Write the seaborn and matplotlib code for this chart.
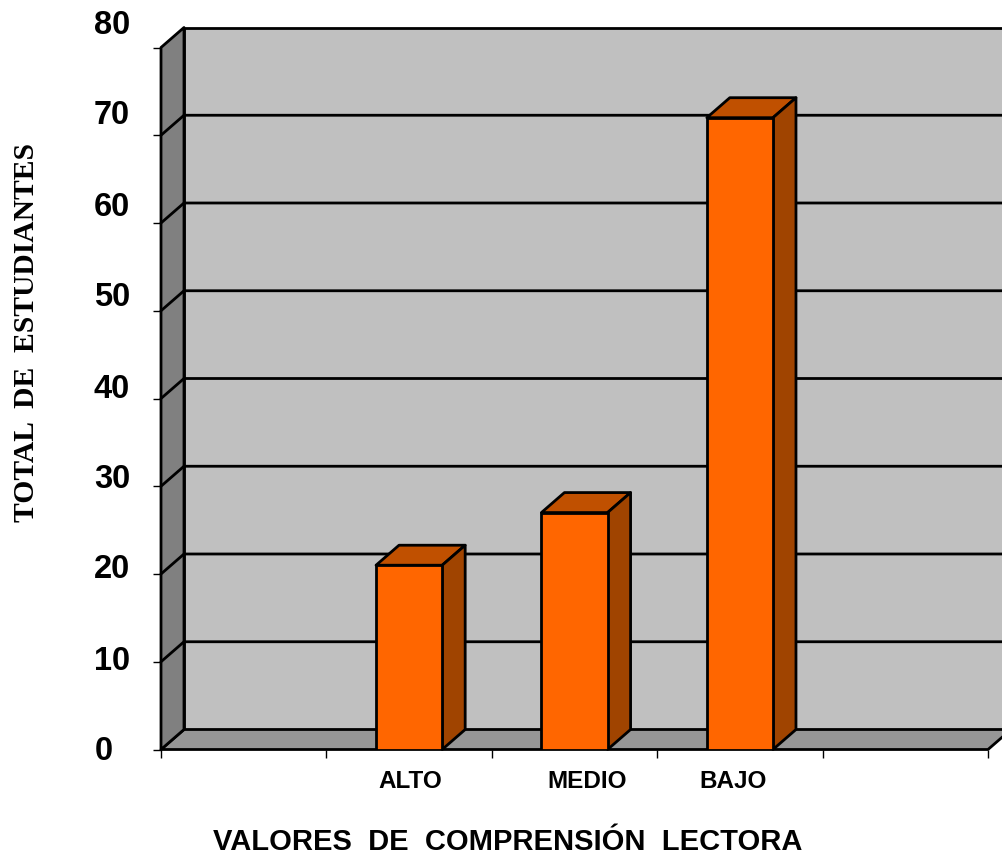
import numpy as np
import pandas as pd
import matplotlib
matplotlib.use("Agg")
import matplotlib.pyplot as plt
from matplotlib.patches import Polygon
import seaborn as sns

slots = [" ", "ALTO", "MEDIO", "BAJO", "  "]
categorias = ["ALTO", "MEDIO", "BAJO"]
valores = [21, 27, 72]
yticks = [0, 10, 20, 30, 40, 50, 60, 70, 80]

W, H = 1002, 856
sns.set_style("white")
plt.rcParams['font.family'] = ['Liberation Sans', 'DejaVu Sans']

df = pd.DataFrame({"nivel": categorias, "total": valores})

f = plt.figure(figsize=(W / 100, H / 100), dpi=100)
# front plane of the fake 3d box, in pixels of the reference
x0, x1, y0, y1 = 161, 988, 749.5, 47.5
ax = f.add_axes([x0 / W, (H - y0) / H, (x1 - x0) / W, (y0 - y1) / H])

p = sns.barplot(x="nivel", y="total", data=df, order=slots, color="#FF6600",
                saturation=1, width=0.40, edgecolor="black", linewidth=2, ax=ax, zorder=6)
p.set(xlim=(-0.5, 4.5), ylim=(0, 80), xlabel="", ylabel="")

# depth of the box in data units (23 px right, 20 px up)
dx = 23 / ((x1 - x0) / 5)
dy = 20 / ((y0 - y1) / 80)


def poly(pts, color, z, lw=2):
    ax.add_patch(Polygon(pts, closed=True, facecolor=color, edgecolor="black",
                         linewidth=lw, zorder=z, clip_on=False, joinstyle="round"))


xa, xb = -0.5, 4.5
poly([(xa + dx, dy), (xb + dx, dy), (xb + dx, 80 + dy), (xa + dx, 80 + dy)], "#C0C0C0", 1)
poly([(xa, 0), (xb, 0), (xb + dx, dy), (xa + dx, dy)], "#969696", 2)
poly([(xa, 0), (xa + dx, dy), (xa + dx, 80 + dy), (xa, 80)], "#808080", 2)

# grid on the back wall and side wall
for v in yticks[1:-1]:
    ax.plot([xa, xa + dx, xb + dx], [v, v + dy, v + dy], color="black", lw=2,
            zorder=3, clip_on=False, solid_joinstyle="miter")

# bar sides
for b in ax.patches:
    if b.get_zorder() != 6 or b.get_height() <= 0:
        continue
    bx, bw, bh = b.get_x(), b.get_width(), b.get_height()
    poly([(bx, bh), (bx + bw, bh), (bx + bw + dx, bh + dy), (bx + dx, bh + dy)], "#C05000", 5)
    poly([(bx + bw, 0), (bx + bw + dx, dy), (bx + bw + dx, bh + dy), (bx + bw, bh)], "#A04400", 5)

sns.despine(ax=ax, left=True, bottom=True, top=True, right=True)
ax.set_xticks(np.arange(-0.5, 5, 1))
ax.set_xticklabels([])
ax.set_yticks(yticks)
ax.set_yticklabels([])
ax.tick_params(axis="both", direction="out", length=6, width=1, color="black", left=True, bottom=True)


def txt(x, y, s, **kw):
    f.text(x / W, 1 - y / H, s, va="center", ha="center", color="black", **kw)


# the value labels in the reference drift away from their ticks
etiquetas_y = [752, 661, 570, 479, 389, 298, 207, 116, 25]
for v, yy in zip(yticks, etiquetas_y):
    f.text(130 / W if v else 113 / W, 1 - yy / H, str(v), ha="right", va="center",
           fontsize=23.5, fontweight="bold", color="black")

txt(410, 782, "ALTO", fontsize=17.5, fontweight="bold")
txt(587, 782, "MEDIO", fontsize=17.5, fontweight="bold")
txt(733, 782, "BAJO", fontsize=17.5, fontweight="bold")
txt(508, 842, "VALORES  DE  COMPRENSIÓN  LECTORA", fontsize=21, fontweight="bold")
txt(27, 332, "TOTAL  DE  ESTUDIANTES", fontsize=21.3, fontweight="bold", rotation=90,
    family="Liberation Serif")

f.savefig("out.png", dpi=100)
